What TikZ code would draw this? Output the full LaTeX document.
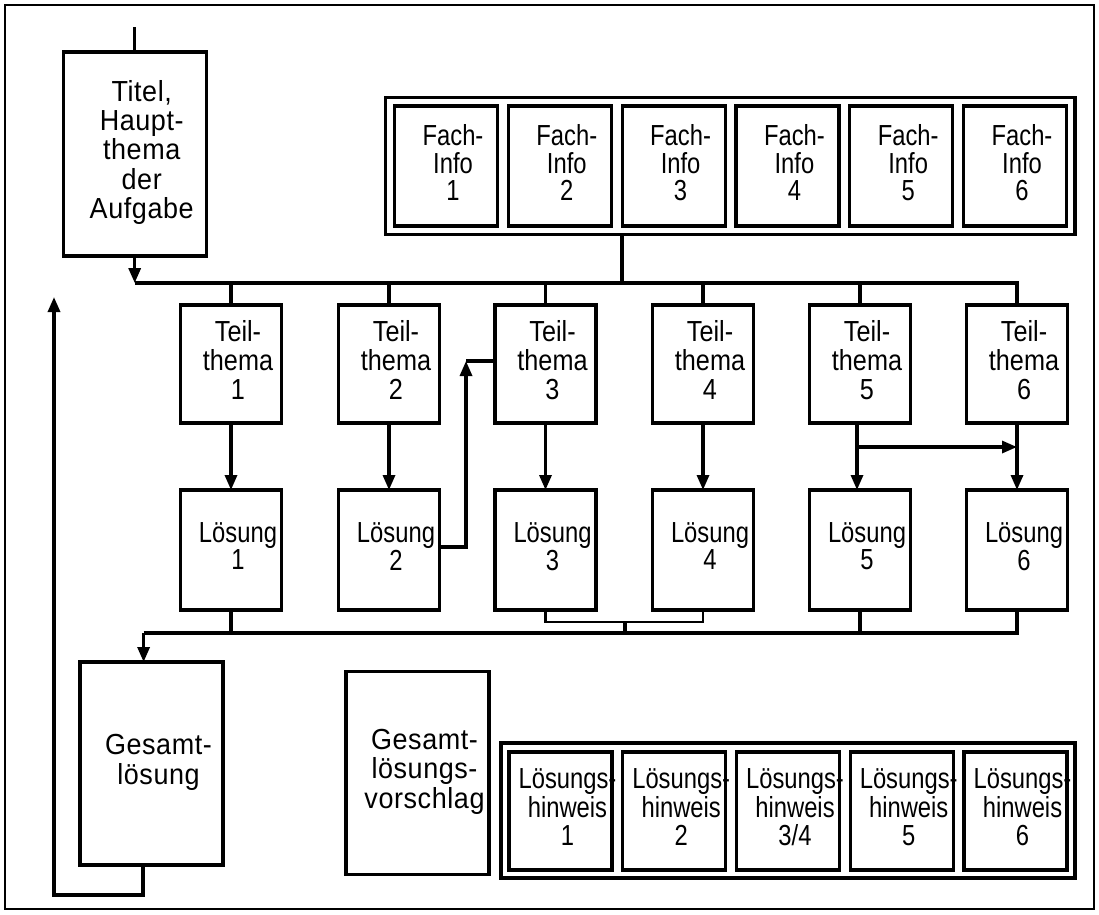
\documentclass[tikz,border=0pt]{standalone}
\usepackage{fontspec}
\setmainfont{Liberation Sans}
\newfontfamily\fwide[LetterSpace=2,FakeStretch=0.93]{Liberation Sans}
\newfontfamily\fteil[FakeStretch=0.87]{Liberation Sans}
\newfontfamily\fcond[FakeStretch=0.82]{Liberation Sans}
\usetikzlibrary{arrows.meta}
\newcommand\boxtext[1]{\makebox[0pt]{\hspace*{14pt}\begin{tabular}{@{}c@{}}#1\end{tabular}}}
\begin{document}
\begin{tikzpicture}[x=1pt,y=-1pt,
  every node/.style={inner sep=0pt,outer sep=0pt},
  box/.style={draw,line width=3.2pt},
  conn/.style={line width=3.2pt},
  arr/.style={line width=3.2pt,-{Triangle[length=15pt,width=12pt]}},
  titelfont/.style={font=\fwide\fontsize{29}{28.5}\selectfont},
  teilfont/.style={font=\fteil\fontsize{29}{27}\selectfont},
  loesfont/.style={font=\fcond\fontsize{29}{25}\selectfont},
  fachfont/.style={font=\fcond\fontsize{29}{24}\selectfont},
  lhfont/.style={font=\fcond\fontsize{29}{26}\selectfont},
  teilbox/.style={box,minimum width=101pt,minimum height=118pt},
  loesbox/.style={box,minimum width=101pt,minimum height=120pt},
  fachbox/.style={box,minimum width=103pt,minimum height=120pt},
  lhbox/.style={box,minimum width=103pt,minimum height=118pt},
  bigbox/.style={box,minimum width=143pt,minimum height=204pt}
]
\useasboundingbox (0,0) rectangle (1099,914);
\draw[line width=1.5pt] (5,5) rectangle (1094,909);

% Titel
\node[bigbox,titelfont] (titel) at (134.7,154) {\boxtext{Titel,\\Haupt-\\thema\\der\\Aufgabe}};

% Fach-Info
\node[box,minimum width=689.5pt,minimum height=137pt] (fach) at (730.2,166) {};
\foreach \i/\x in {1/446,2/559.8,3/673.6,4/787.4,5/901.2,6/1015}
  \node[fachbox,fachfont] (f\i) at (\x,166) {\boxtext{Fach-\\Info\\\i}};

% Teilthemen und Loesungen
\foreach \i/\x in {1/231,2/389,3/545.5,4/703,5/860,6/1017}{
  \node[teilbox,teilfont] (t\i) at (\x,364) {\boxtext{Teil-\\thema\\\i}};
  \node[loesbox,loesfont] (l\i) at (\x,550) {\boxtext{Lösung\\\i}};
}

% Gesamtloesung, Vorschlag
\node[bigbox,titelfont,minimum height=203pt] (ges) at (151.5,763.5) {\boxtext{Gesamt-\\lösung}};
\node[bigbox,titelfont,minimum height=203.5pt] (vor) at (417.5,773) {\boxtext{Gesamt-\\lösungs-\\vorschlag}};

% Loesungshinweise
\node[box,minimum width=574pt,minimum height=135pt] (lh) at (788,810.5) {};
\foreach \i/\x/\t in {1/560.5/1,2/674.2/2,3/788/3\slash 4,4/901.7/5,5/1015.5/6}
  \node[lhbox,lhfont] (lh\i) at (\x,811) {\boxtext{Lösungs-\\hinweis\\\t}};

% top input line
\coordinate (tin) at (134.7,27);
\draw[conn] (tin) -- (titel.north);

% upper bus
\coordinate (busL) at (134.7,283);
\draw[arr] (titel.south) -- (busL);
\draw[conn] (busL) -| (t6.north);
\foreach \i in {1,...,5}
  \draw[conn] (t\i.north) -- (t\i.north |- busL);
\coordinate (fx) at (622,283);
\draw[conn] (fx) -- (fx |- fach.south);

% Teil -> Loesung
\foreach \i in {1,2,3,4,6}
  \draw[arr] (t\i.south) -- (l\i.north);
\draw[arr] ([xshift=-3pt]t5.south) -- ([xshift=-3pt]l5.north);
\coordinate (h5) at (857,447);
\draw[arr] (h5) -- (h5 -| t6.south);

% Loesung 2 -> Teil 3
\coordinate (cn) at (466,361);
\draw[arr] ([yshift=3pt]l2.east) -| (cn);
\draw[conn] (cn) -- (cn -| t3.west);

% lower bus
\coordinate (bb) at (143.6,633);
\draw[conn] (l1.south) -- (l1.south |- bb);
\draw[conn] (bb) -| (l6.south);
\draw[conn] (l5.south) -- (l5.south |- bb);
\coordinate (br) at (625,622);
\draw[line width=2.6pt] (l3.south) |- (l4.south |- br) -- (l4.south);
\draw[conn] (br) -- (br |- bb);
\draw[arr] (bb) -- (bb |- ges.north);

% feedback loop
\coordinate (lp1) at (143,895);
\coordinate (lp2) at (54,895);
\coordinate (lpt) at (54,297);
\draw[arr] (lp1 |- ges.south) -- (lp1) -- (lp2) -- (lpt);
\end{tikzpicture}
\end{document}
